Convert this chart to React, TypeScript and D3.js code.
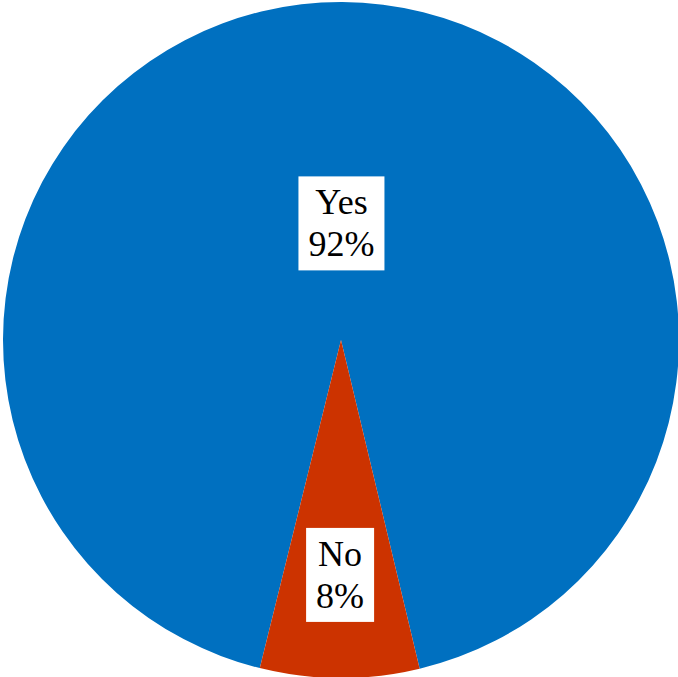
import React, { useEffect, useRef } from "react";
import * as d3 from "d3";

const categories = ["Yes", "No"];
const values = [92.4, 7.6];
const percentLabels = ["92%", "8%"];
const colors = ["#0070C0", "#CC3300"];
const labelRadiusFrac = [0.345, 0.695];

const W = 678;
const H = 677;

export default function App() {
  const ref = useRef<SVGSVGElement | null>(null);

  useEffect(() => {
    const svg = d3.select(ref.current);
    svg.selectAll("*").remove();
    const cx = 341;
    const cy = 340;
    const r = 338;
    const start = (193.9 * Math.PI) / 180;
    const pie = d3
      .pie<number>()
      .sort(null)
      .startAngle(start)
      .endAngle(start + 2 * Math.PI);
    const arcs = pie(values);
    const arc = d3.arc<d3.PieArcDatum<number>>().innerRadius(0).outerRadius(r);
    const g = svg.append("g").attr("transform", `translate(${cx},${cy})`);
    g.selectAll("path.slice")
      .data(arcs)
      .enter()
      .append("path")
      .attr("class", "slice")
      .attr("d", arc)
      .attr("fill", (_d, i) => colors[i]);

    arcs.forEach((a, i) => {
      const mid = (a.startAngle + a.endAngle) / 2;
      const lr = r * labelRadiusFrac[i];
      const x = Math.sin(mid) * lr;
      const y = -Math.cos(mid) * lr;
      const lg = g.append("g").attr("transform", `translate(${x},${y})`);
      const rect = lg.append("rect").attr("fill", "#ffffff");
      const t = lg
        .append("text")
        .attr("text-anchor", "middle")
        .attr("font-family", "'Liberation Serif', 'Times New Roman', serif")
        .attr("font-size", 36)
        .attr("fill", "#000000");
      t.append("tspan").attr("x", 0).attr("y", -9).text(categories[i]);
      t.append("tspan").attr("x", 0).attr("y", 33).text(percentLabels[i]);
      const bb = (t.node() as SVGTextElement).getBBox();
      const padX = 10;
      const padY = 6;
      rect
        .attr("x", bb.x - padX)
        .attr("y", bb.y - padY)
        .attr("width", bb.width + padX * 2)
        .attr("height", bb.height + padY * 2);
    });
  }, []);

  return (
    <div style={{ position: "fixed", left: 0, top: 0, width: W, height: H, background: "#fff" }}>
      <svg ref={ref} width={W} height={H} style={{ display: "block" }} />
    </div>
  );
}
